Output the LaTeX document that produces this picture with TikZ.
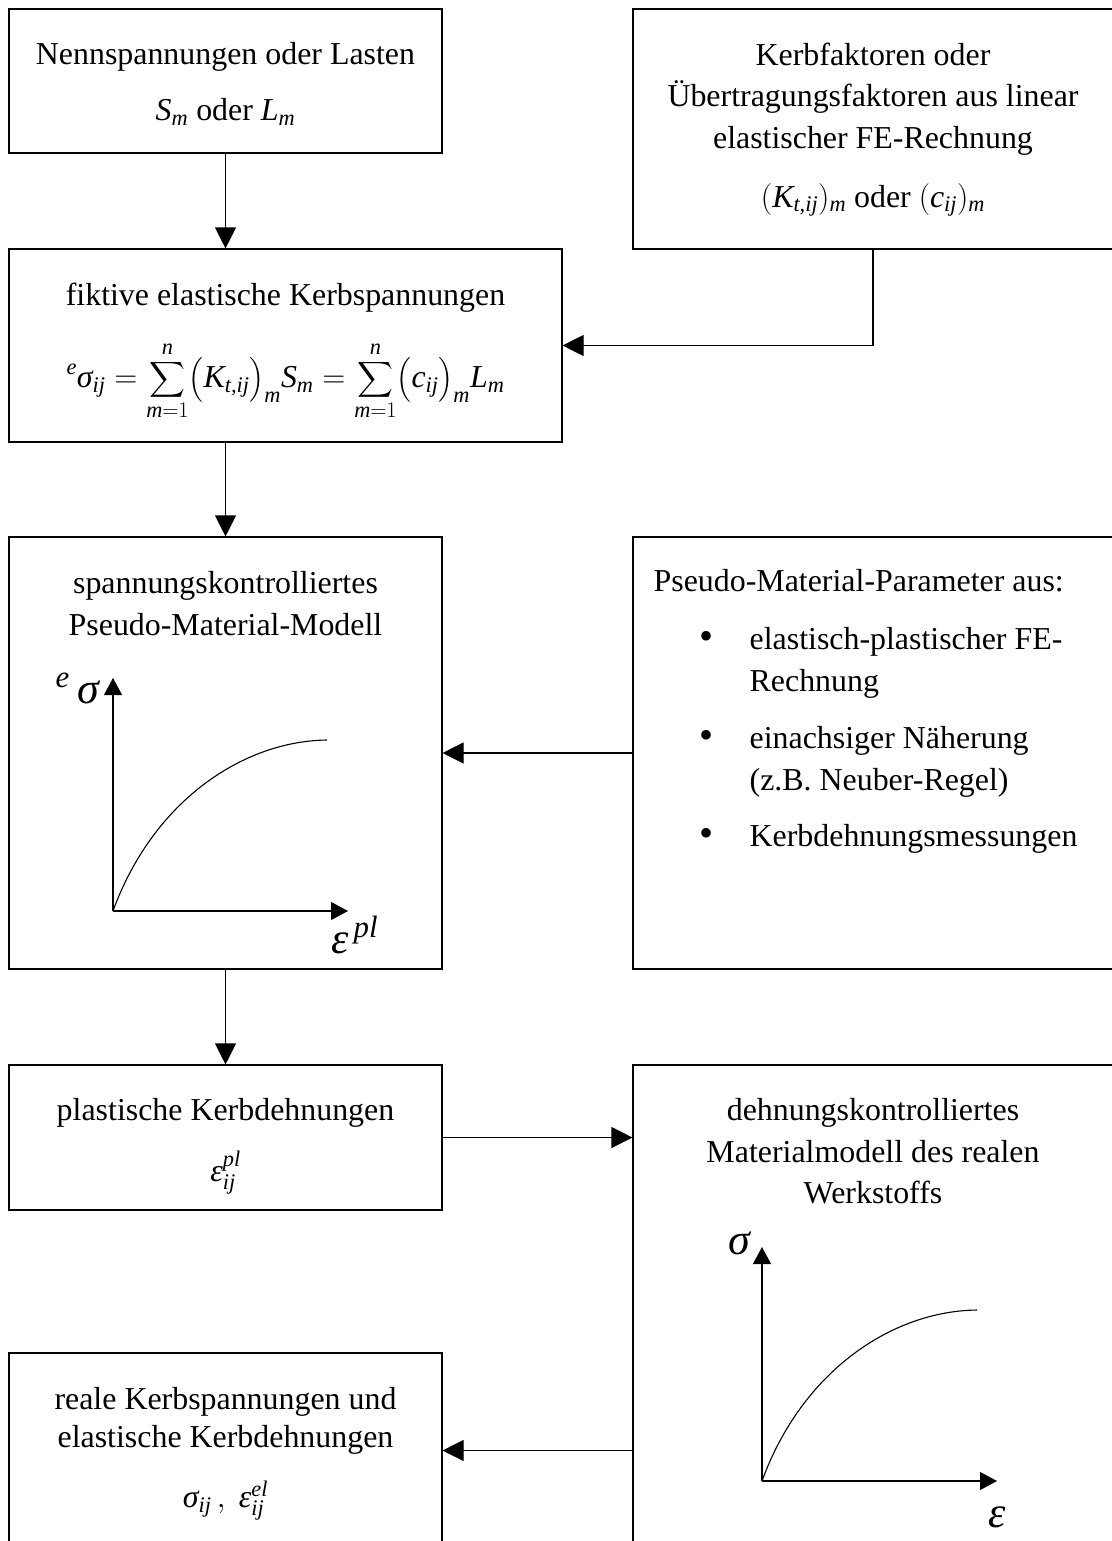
\RequirePackage{fix-cm}
\documentclass[tikz,border=0pt]{standalone}
\usepackage{amsmath}
\usepackage{fontspec}
\setmainfont{Liberation Serif}
\usetikzlibrary{arrows.meta,fit,positioning}

\newcommand{\tvar}[1]{\textit{#1}}
\newcommand{\listbullet}{\makebox[96pt][l]{\hspace{46pt}{\fontsize{40pt}{41.5pt}\selectfont\textbullet}}}

\begin{document}
\begin{tikzpicture}[x=1pt, y=-1pt, >={Triangle[length=21pt,width=21pt]},
    box/.style={rectangle, draw, line width=1.1pt, inner sep=0pt},
    title/.style={inner sep=0pt, align=center},
    flow/.style={->, line width=1.1pt},
    axis/.style={-{Triangle[length=17pt,width=18pt]}, line width=1.1pt},
    curve/.style={line width=1.1pt},
    axislabel/.style={inner sep=0pt, font=\fontsize{44pt}{44pt}\selectfont},
    every node/.append style={font=\fontsize{31.9pt}{41.5pt}\selectfont}]
\useasboundingbox (0,0) rectangle (1111,1541);

%Nennspannungen
\node[box, fit={(9,9) (442,153)}] (nenn) {};
\node[title, below=34pt of nenn.north] (nenntext) {
    Nennspannungen oder Lasten\\[14.5pt]
    $\tvar{S}_{\tvar{m}}$ oder $\tvar{L}_{\tvar{m}}$
    };

%Kerbfaktoren
\node[box, fit={(633,9) (1113,249)}] (kerbf) {};
\node[title, below=34pt of kerbf.north] (kerbftext) {
    Kerbfaktoren oder\\
    Übertragungsfaktoren aus linear\\
    elastischer FE-Rechnung\\[17.5pt]
    $(\tvar{K}_{\tvar{t,ij}})_{\tvar{m}}$ oder $(\tvar{c}_{\tvar{ij}})_{\tvar{m}}$
    };

%fiktive Kerbspannungen
\node[box, fit={(9,249) (562,442)}] (fiktiv) {};
\node[title, below=34pt of fiktiv.north] (fiktivtext) {fiktive elastische Kerbspannungen};
\node[anchor=base] (fiktivsum) at ([yshift=-139pt]fiktiv.north) {
    $\displaystyle {}^{\tvar{e}}\tvar{σ}_{\tvar{ij}} = \sum_{\tvar{m}=1}^{\tvar{n}}\bigl(\tvar{K}_{\tvar{t,ij}}\bigr)_{\tvar{m}} \tvar{S}_{\tvar{m}}
     = \sum_{\tvar{m}=1}^{\tvar{n}}\bigl(\tvar{c}_{\tvar{ij}}\bigr)_{\tvar{m}} \tvar{L}_{\tvar{m}}$
    };

%Pseudo-Material-Modell
\node[box, fit={(9,537) (442,969)}] (pmm) {};
\node[title, below=35pt of pmm.north] (pmmtitle) {
    spannungskontrolliertes\\
    Pseudo-Material-Modell
    };
\begin{scope}[shift={(113,911)}]
\draw[axis] (0,0) -- (0,-233);
\draw[axis] (0,0) -- (235,0);
\draw[curve] (0,0) .. controls (40,-110) and (130,-170) .. (214,-171);
\end{scope}
\node[axislabel, anchor=base east] (pmmsig) at (99,703) {${}^{\tvar{e}}\,\tvar{σ}$};
\node[axislabel, anchor=base west] (pmmeps) at (331,953) {$\tvar{ε}^{\,\tvar{pl}}$};

%Pseudo-Material-Parameter
\node[box, fit={(633,537) (1113,969)}] (pmp) {};
\node[title, align=left, anchor=north west] (pmptext) at ([xshift=21pt, yshift=-33pt]pmp.north west) {
    Pseudo-Material-Parameter aus:\\[16pt]
    \listbullet elastisch-plastischer FE-\\[1pt]
    \hspace*{96pt}Rechnung\\[15pt]
    \listbullet einachsiger Näherung\\[1pt]
    \hspace*{96pt}(z.B. Neuber-Regel)\\[14.5pt]
    \listbullet Kerbdehnungsmessungen
    };

%plastische Kerbdehnungen
\node[box, fit={(9,1065) (442,1210)}] (plast) {};
\node[title, below=34pt of plast.north] (plasttext) {
    plastische Kerbdehnungen\\[19.5pt]
    $\tvar{ε}_{\tvar{ij}}^{\tvar{pl}}$
    };

%Materialmodell des realen Werkstoffs
\node[box, fit={(633,1065) (1113,1548)}] (realmm) {};
\node[title, below=34pt of realmm.north] (realmmtitle) {
    dehnungskontrolliertes\\
    Materialmodell des realen\\
    Werkstoffs
    };
\begin{scope}[shift={(762,1481)}]
\draw[axis] (0,0) -- (0,-234);
\draw[axis] (0,0) -- (235,0);
\draw[curve] (0,0) .. controls (40,-110) and (130,-170) .. (215,-171);
\end{scope}
\node[axislabel, anchor=base east] (realsig) at (750,1254) {$\tvar{σ}$};
\node[axislabel, anchor=base west] (realeps) at (988,1527) {$\tvar{ε}$};

%reale Kerbspannungen
\node[box, fit={(9,1353) (442,1548)}] (real) {};
\node[title, below=35pt of real.north] (realtext) {
    reale Kerbspannungen und\\[-3.5pt]
    elastische Kerbdehnungen\\[18.5pt]
    $\tvar{σ}_{\tvar{ij}}\,,\ \tvar{ε}_{\tvar{ij}}^{\tvar{el}}$
    };

%Paths
\draw[flow] (nenn.south) -- (nenn.south |- fiktiv.north);
\draw[flow] (kerbf.south) |- (fiktiv.east);
\draw[flow] (fiktiv.south -| pmm.north) -- (pmm.north);
\draw[flow] (pmp.west) -- (pmm.east);
\draw[flow] (pmm.south) -- (plast.north);
\draw[flow] (plast.east) -- (plast.east -| realmm.west);
\draw[flow] (realmm.west |- real.east) -- (real.east);

\end{tikzpicture}
\end{document}
